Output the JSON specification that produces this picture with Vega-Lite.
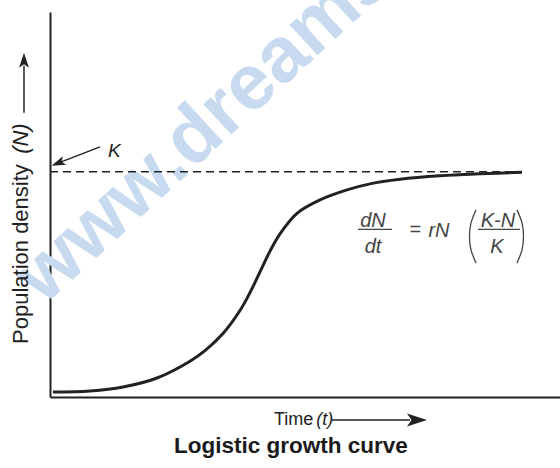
{
  "$schema": "https://vega.github.io/schema/vega-lite/v6.json",
  "width": 510,
  "height": 385,
  "autosize": {"type": "none"},
  "padding": {"left": 50, "top": 12, "right": 0, "bottom": 71},
  "background": "white",
  "config": {"view": {"stroke": null}},
  "datasets": {
    "watermark": [{"t": -1.18, "N": 40.4, "label": "www.dreamstime.com"}],
    "curve": [
      {"t": 0.59, "N": 2.2}, {"t": 7.84, "N": 2.67}, {"t": 14.31, "N": 4.44}, {"t": 20.98, "N": 8.44},
      {"t": 27.45, "N": 15.9}, {"t": 30.39, "N": 20.6}, {"t": 33.92, "N": 28.2}, {"t": 37.25, "N": 38.4},
      {"t": 39.22, "N": 46.4}, {"t": 41.18, "N": 55.6}, {"t": 43.14, "N": 64.8}, {"t": 45.1, "N": 72.5},
      {"t": 48.43, "N": 81.6}, {"t": 52.94, "N": 87.56}, {"t": 58.24, "N": 92.0}, {"t": 62.75, "N": 94.67},
      {"t": 68.63, "N": 96.67}, {"t": 76.47, "N": 98.22}, {"t": 84.31, "N": 99.11}, {"t": 92.55, "N": 99.78}
    ],
    "kline": [{"t": 0, "N": 100}, {"t": 92.5, "N": 100}],
    "karrow": [{"t": 9.8, "N": 111.1, "t2": 1.96, "N2": 104.2}],
    "khead": [{"t": 1.57, "N": 103.9}],
    "klabel": [{"t": 11.37, "N": 106.7, "label": "K"}],
    "formula": [
      {"t": 63.33, "N": 75.56, "label": "dN"},
      {"t": 63.33, "N": 64.0, "label": "dt"},
      {"t": 71.57, "N": 71.3, "label": "="},
      {"t": 76.27, "N": 71.1, "label": "rN"},
      {"t": 87.84, "N": 75.56, "label": "K-N"},
      {"t": 87.65, "N": 64.0, "label": "K"}
    ],
    "bars": [
      {"t": 60.39, "N": 74.44, "t2": 67.06, "N2": 74.44},
      {"t": 83.92, "N": 74.44, "t2": 92.16, "N2": 74.44}
    ],
    "parens": [
      {"side": "left", "i": 0, "t": 83.53, "N": 83.11},
      {"side": "left", "i": 1, "t": 82.55, "N": 77.33},
      {"side": "left", "i": 2, "t": 82.25, "N": 71.33},
      {"side": "left", "i": 3, "t": 82.55, "N": 65.33},
      {"side": "left", "i": 4, "t": 83.53, "N": 59.56},
      {"side": "right", "i": 0, "t": 91.57, "N": 83.11},
      {"side": "right", "i": 1, "t": 92.55, "N": 77.33},
      {"side": "right", "i": 2, "t": 92.84, "N": 71.33},
      {"side": "right", "i": 3, "t": 92.55, "N": 65.33},
      {"side": "right", "i": 4, "t": 91.57, "N": 59.56}
    ],
    "ylabel": [{"t": -4.31, "N": 23.56, "label": "Population density"}],
    "ylabelN": [{"t": -4.31, "N": 108.0, "label": "(N)"}],
    "shafts": [
      {"t": -5.1, "N": 126.2, "t2": -5.1, "N2": 147.1},
      {"t": 55.3, "N": -10.22, "t2": 70.6, "N2": -10.22}
    ],
    "yhead": [{"t": -5.1, "N": 149.6}],
    "xhead": [{"t": 71.96, "N": -10.22}],
    "xlabel": [{"t": 43.92, "N": -12.44, "label": "Time"}],
    "xlabelT": [{"t": 52.2, "N": -12.44, "label": "(t)"}],
    "title": [{"t": 47.25, "N": -24.89, "label": "Logistic growth curve"}]
  },
  "encoding": {
    "x": {"field": "t", "type": "quantitative", "scale": {"domain": [0, 100], "nice": false, "zero": false},
      "axis": {"title": null, "labels": false, "ticks": false, "grid": false, "domainColor": "#222", "domainWidth": 2}},
    "y": {"field": "N", "type": "quantitative", "scale": {"domain": [0, 171], "nice": false, "zero": false},
      "axis": {"title": null, "labels": false, "ticks": false, "grid": false, "domainColor": "#222", "domainWidth": 2}}
  },
  "layer": [
    {"data": {"name": "watermark"}, "mark": {"type": "text", "align": "left", "baseline": "alphabetic", "angle": -42.5, "fontSize": 78, "fontWeight": "bold", "font": "Liberation Sans", "color": "#c8daf0"},
      "encoding": {"text": {"field": "label"}}},
    {"data": {"name": "kline"}, "mark": {"type": "line", "color": "#222", "strokeWidth": 1.5, "strokeDash": [8, 5]}, "encoding": {}},
    {"data": {"name": "curve"}, "mark": {"type": "line", "color": "#222", "strokeWidth": 3, "interpolate": "catmull-rom"}, "encoding": {}},
    {"data": {"name": "karrow"}, "mark": {"type": "rule", "color": "#222", "strokeWidth": 1.5},
      "encoding": {"x2": {"field": "t2"}, "y2": {"field": "N2"}}},
    {"data": {"name": "khead"}, "mark": {"type": "point", "shape": "M0,-1L0.65,1L0,0.55L-0.65,1Z", "filled": true, "color": "#222", "opacity": 1, "size": 196, "angle": 248.5}, "encoding": {}},
    {"data": {"name": "klabel"}, "mark": {"type": "text", "align": "left", "baseline": "alphabetic", "fontSize": 19, "fontStyle": "italic", "font": "Liberation Sans", "color": "#222"},
      "encoding": {"text": {"field": "label"}}},
    {"data": {"name": "formula"}, "mark": {"type": "text", "align": "center", "baseline": "alphabetic", "fontSize": 20, "fontStyle": "italic", "font": "Liberation Sans", "color": "#444"},
      "encoding": {"text": {"field": "label"}}},
    {"data": {"name": "bars"}, "mark": {"type": "rule", "color": "#444", "strokeWidth": 1.2},
      "encoding": {"x2": {"field": "t2"}, "y2": {"field": "N2"}}},
    {"data": {"name": "parens"}, "mark": {"type": "line", "color": "#444", "strokeWidth": 1.3, "interpolate": "natural"},
      "encoding": {"detail": {"field": "side"}, "order": {"field": "i", "type": "quantitative"}}},
    {"data": {"name": "ylabel"}, "mark": {"type": "text", "align": "left", "baseline": "alphabetic", "angle": 270, "fontSize": 22, "font": "Liberation Sans", "color": "#222"},
      "encoding": {"text": {"field": "label"}}},
    {"data": {"name": "ylabelN"}, "mark": {"type": "text", "align": "left", "baseline": "alphabetic", "angle": 270, "fontSize": 22, "fontStyle": "italic", "font": "Liberation Sans", "color": "#222"},
      "encoding": {"text": {"field": "label"}}},
    {"data": {"name": "shafts"}, "mark": {"type": "rule", "color": "#222", "strokeWidth": 1.5},
      "encoding": {"x2": {"field": "t2"}, "y2": {"field": "N2"}}},
    {"data": {"name": "yhead"}, "mark": {"type": "point", "shape": "M0,-1L0.65,1L0,0.55L-0.65,1Z", "filled": true, "color": "#222", "opacity": 1, "size": 225, "angle": 0}, "encoding": {}},
    {"data": {"name": "xhead"}, "mark": {"type": "point", "shape": "M0,-1L0.65,1L0,0.55L-0.65,1Z", "filled": true, "color": "#222", "opacity": 1, "size": 400, "angle": 90}, "encoding": {}},
    {"data": {"name": "xlabel"}, "mark": {"type": "text", "align": "left", "baseline": "alphabetic", "fontSize": 18, "font": "Liberation Sans", "color": "#222"},
      "encoding": {"text": {"field": "label"}}},
    {"data": {"name": "xlabelT"}, "mark": {"type": "text", "align": "left", "baseline": "alphabetic", "fontSize": 18, "fontStyle": "italic", "font": "Liberation Sans", "color": "#222"},
      "encoding": {"text": {"field": "label"}}},
    {"data": {"name": "title"}, "mark": {"type": "text", "align": "center", "baseline": "alphabetic", "fontSize": 22.5, "fontWeight": "bold", "font": "Liberation Sans", "color": "#1a1a1a"},
      "encoding": {"text": {"field": "label"}}}
  ]
}
